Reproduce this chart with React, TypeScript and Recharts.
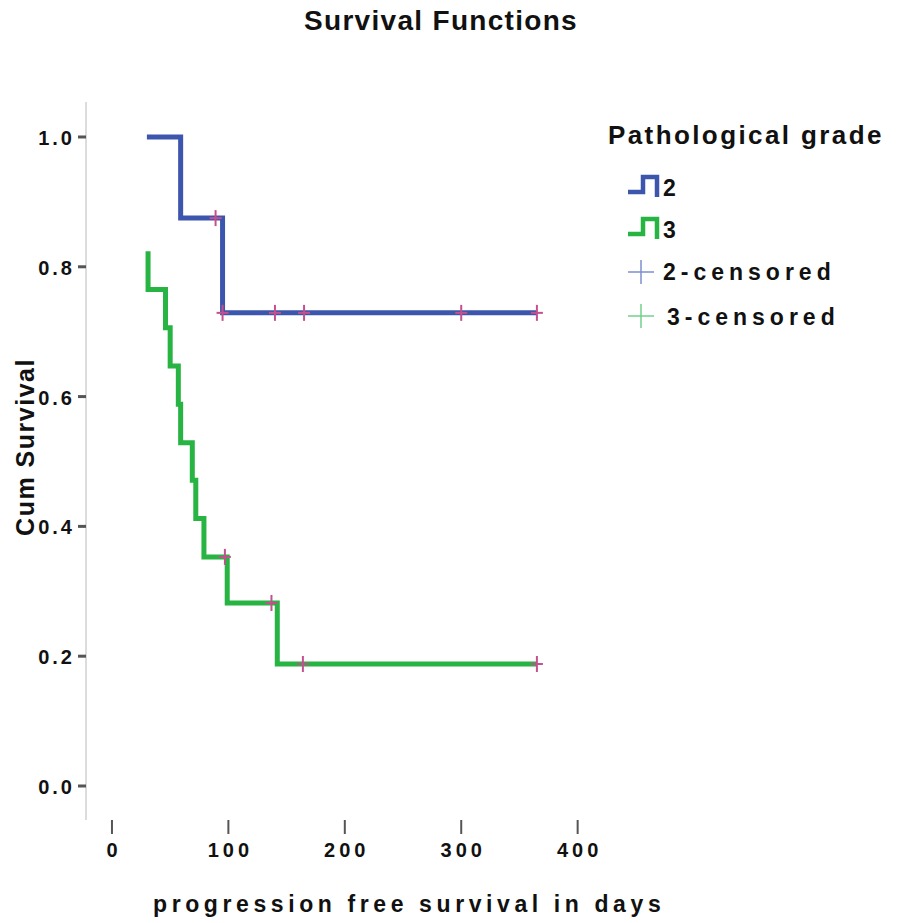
import { ComposedChart, Line, Scatter, XAxis, YAxis } from 'recharts'

// Kaplan-Meier steps
const grade2Times = [30, 59, 95, 365]
const grade2Surv = [1.0, 0.875, 0.729, 0.729]
const grade3Times = [31, 31, 46, 50, 57, 59, 69, 72, 79, 99, 142, 365]
const grade3Surv = [0.824, 0.765, 0.706, 0.647, 0.588, 0.529, 0.471, 0.412, 0.353, 0.282, 0.188, 0.188]

// censored cases
const grade2CensorTimes = [89, 95, 140, 165, 300, 365]
const grade2CensorSurv = [0.875, 0.729, 0.729, 0.729, 0.729, 0.729]
const grade3CensorTimes = [97, 137, 164, 365]
const grade3CensorSurv = [0.353, 0.282, 0.188, 0.188]

const xTicks = [0, 100, 200, 300, 400]
const yTicks = [0, 0.2, 0.4, 0.6, 0.8, 1.0]

const BLUE = '#3c55ad'
const GREEN = '#27b443'
const CENSOR = '#c4508e'
const FONT = '"Liberation Sans", Arial, sans-serif'

const toRows = (t: number[], s: number[]) => t.map((v, i) => ({ t: v, s: s[i] }))

const grade2Data = toRows(grade2Times, grade2Surv)
const grade3Data = toRows(grade3Times, grade3Surv)
const grade2Censor = toRows(grade2CensorTimes, grade2CensorSurv)
const grade3Censor = toRows(grade3CensorTimes, grade3CensorSurv)

const XTick = (props: any) => {
    const { x, y, payload } = props
    return (
        <text x={x + 2} y={y + 23} textAnchor="middle" fontFamily={FONT} fontWeight="bold"
            fontSize={20} letterSpacing={4} fill="#111">
            {payload.value}
        </text>
    )
}

const YTick = (props: any) => {
    const { x, y, payload } = props
    return (
        <text x={x - 3} y={y + 8} textAnchor="end" fontFamily={FONT} fontWeight="bold"
            fontSize={20} letterSpacing={3} fill="#111">
            {Number(payload.value).toFixed(1)}
        </text>
    )
}

const CensorMark = (props: any) => {
    const { cx, cy } = props
    return (
        <g stroke={CENSOR} strokeWidth={2}>
            <line x1={cx} y1={cy - 8} x2={cx} y2={cy + 8} />
            <line x1={cx - 6} y1={cy} x2={cx + 6} y2={cy} />
        </g>
    )
}

const StepIcon = ({ color }: { color: string }) => (
    <svg width={34} height={24} style={{ display: 'block' }}>
        <path d="M1,18 H16 V3 H30 V23" fill="none" stroke={color} strokeWidth={4.5} />
    </svg>
)

const PlusIcon = ({ color }: { color: string }) => (
    <svg width={28} height={26} style={{ display: 'block' }}>
        <line x1={14} y1={1} x2={14} y2={25} stroke={color} strokeWidth={1.5} />
        <line x1={1} y1={13} x2={27} y2={13} stroke={color} strokeWidth={1.5} />
    </svg>
)

const textBase: React.CSSProperties = {
    position: 'absolute',
    fontFamily: FONT,
    fontWeight: 'bold',
    color: '#111',
    lineHeight: 1,
    whiteSpace: 'nowrap',
}

function KmLegend() {
    return (
        <>
            <div style={{ ...textBase, left: 608, top: 122, fontSize: 26, letterSpacing: 2.4 }}>Pathological grade</div>
            <div style={{ position: 'absolute', left: 627, top: 174 }}><StepIcon color={BLUE} /></div>
            <div style={{ ...textBase, left: 663, top: 177, fontSize: 23 }}>2</div>
            <div style={{ position: 'absolute', left: 627, top: 216 }}><StepIcon color={GREEN} /></div>
            <div style={{ ...textBase, left: 663, top: 219, fontSize: 23 }}>3</div>
            <div style={{ position: 'absolute', left: 627, top: 259 }}><PlusIcon color="#7b8fd0" /></div>
            <div style={{ ...textBase, left: 663, top: 261, fontSize: 23, letterSpacing: 5 }}>2-censored</div>
            <div style={{ position: 'absolute', left: 627, top: 303 }}><PlusIcon color="#72d08c" /></div>
            <div style={{ ...textBase, left: 667, top: 306, fontSize: 23, letterSpacing: 5 }}>3-censored</div>
        </>
    )
}

export default function App() {
    return (
        <div style={{ position: 'absolute', left: 0, top: 0, width: 898, height: 923, background: '#fff' }}>
            <div style={{ ...textBase, left: 0, width: 882, top: 7, fontSize: 28, letterSpacing: 1.3, textAlign: 'center' }}>
                Survival Functions
            </div>

            <ComposedChart width={898} height={923} margin={{ top: 102, right: 298, bottom: 63, left: 0 }}>
                <XAxis
                    type="number"
                    dataKey="t"
                    domain={[-22.3, 419.2]}
                    ticks={xTicks}
                    interval={0}
                    allowDataOverflow
                    axisLine={false}
                    tickLine={{ stroke: '#555', strokeWidth: 2 }}
                    tickSize={14}
                    tickMargin={0}
                    tick={XTick}
                    height={40}
                />
                <YAxis
                    type="number"
                    dataKey="s"
                    domain={[-0.0524, 1.0539]}
                    ticks={yTicks}
                    interval={0}
                    allowDataOverflow
                    axisLine={{ stroke: '#dcdcdc', strokeWidth: 2 }}
                    tickLine={{ stroke: '#555', strokeWidth: 3 }}
                    tickSize={8}
                    tickMargin={0}
                    tick={YTick}
                    width={86}
                />
                <Line data={grade2Data} dataKey="s" type="stepAfter" stroke={BLUE} strokeWidth={5}
                    dot={false} activeDot={false} isAnimationActive={false} />
                <Line data={grade3Data} dataKey="s" type="stepAfter" stroke={GREEN} strokeWidth={5}
                    dot={false} activeDot={false} isAnimationActive={false} />
                <Scatter data={grade2Censor} dataKey="s" shape={CensorMark} isAnimationActive={false} />
                <Scatter data={grade3Censor} dataKey="s" shape={CensorMark} isAnimationActive={false} />
            </ComposedChart>

            <div style={{ ...textBase, left: 25, top: 447, fontSize: 25, letterSpacing: 1.5, transform: 'translate(-50%, -50%) rotate(-90deg)' }}>
                Cum Survival
            </div>
            <div style={{ ...textBase, left: 153, top: 893, fontSize: 23, letterSpacing: 4.6 }}>
                progression free survival in days
            </div>
            <KmLegend />
        </div>
    )
}
